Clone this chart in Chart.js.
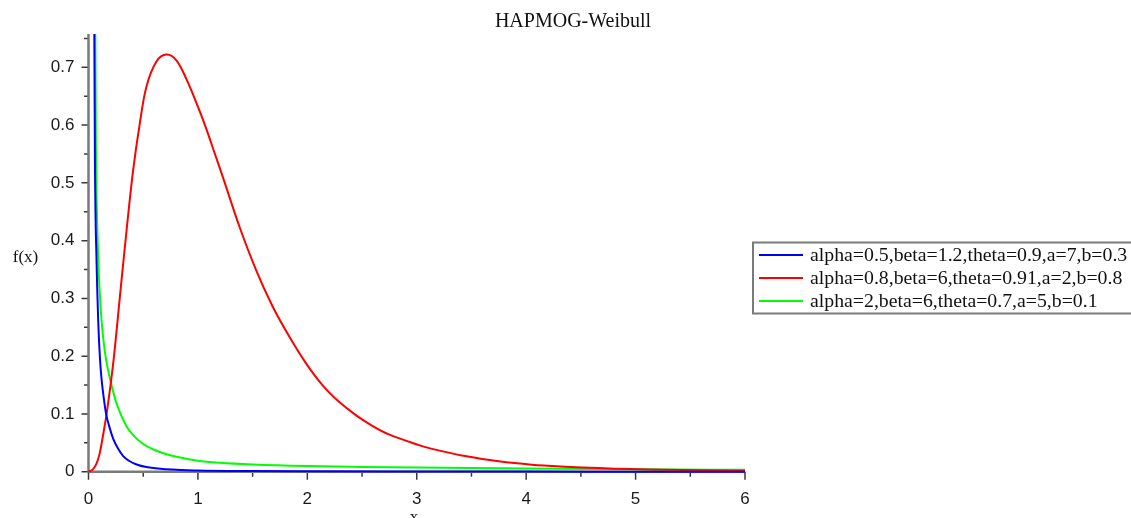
<!DOCTYPE html>
<html>
<head>
<meta charset="utf-8">
<script src="https://cdn.jsdelivr.net/npm/chart.js@4"></script>
<style>
html,body{margin:0;padding:0;background:#fff;}
#wrap{position:relative;width:1131px;height:518px;}
</style>
</head>
<body>
<div id="wrap"><canvas id="c"></canvas></div>
<script>
// ---- data ----
const titleText = 'HAPMOG-Weibull';
const yAxisTitle = 'f(x)';
const xAxisTitle = 'x';
const seriesLabels = [
  'alpha=0.5,beta=1.2,theta=0.9,a=7,b=0.3',
  'alpha=0.8,beta=6,theta=0.91,a=2,b=0.8',
  'alpha=2,beta=6,theta=0.7,a=5,b=0.1'
];
const xTicks = [0, 1, 2, 3, 4, 5, 6];
const xMinorTicks = [0.5, 1.5, 2.5, 3.5, 4.5, 5.5];
const yTicks = [0, 0.1, 0.2, 0.3, 0.4, 0.5, 0.6, 0.7];
const yTickLabels = ['0', '0.1', '0.2', '0.3', '0.4', '0.5', '0.6', '0.7'];
const yMinorTicks = [0.05, 0.15, 0.25, 0.35, 0.45, 0.55, 0.65, 0.75];

const blueX = [0.045, 0.053, 0.059, 0.074, 0.089, 0.105, 0.12, 0.14, 0.16, 0.19, 0.226, 0.27, 0.317, 0.37, 0.44, 0.53, 0.68, 0.85, 1.0, 1.5, 2.0, 3.0, 4.0, 5.0, 6.0];
const blueY = [1.2, 0.76, 0.534, 0.361, 0.26, 0.195, 0.159, 0.127, 0.101, 0.078, 0.057, 0.04, 0.027, 0.019, 0.0125, 0.008, 0.0045, 0.003, 0.002, 0.001, 0.0006, 0.0003, 0.0002, 0.0001, 0.0001];

const redX = [0, 0.04, 0.074, 0.1, 0.12, 0.166, 0.226, 0.287, 0.348, 0.408, 0.469, 0.53, 0.621, 0.712, 0.803, 0.894, 1.0, 1.076, 1.15, 1.228, 1.38, 1.532, 1.683, 1.835, 1.987, 2.138, 2.29, 2.443, 2.594, 2.746, 3.02, 3.14, 3.44, 3.75, 4.05, 4.355, 4.66, 4.96, 5.27, 5.6, 6.0];
const redY = [0, 0.004, 0.0145, 0.03, 0.049, 0.101, 0.188, 0.303, 0.418, 0.522, 0.603, 0.667, 0.71, 0.722, 0.712, 0.68, 0.632, 0.594, 0.553, 0.51, 0.424, 0.349, 0.286, 0.234, 0.188, 0.15, 0.121, 0.098, 0.0795, 0.0645, 0.046, 0.0395, 0.027, 0.018, 0.0122, 0.0087, 0.0062, 0.0045, 0.0033, 0.0023, 0.0015];

const greenX = [0.055, 0.062, 0.068, 0.077, 0.089, 0.1, 0.12, 0.14, 0.16, 0.18, 0.2, 0.25, 0.3, 0.35, 0.4, 0.5, 0.6, 0.7, 0.85, 1.0, 1.2, 1.5, 2.0, 2.5, 3.0, 4.0, 5.0, 6.0];
const greenY = [1.3, 0.76, 0.56, 0.45, 0.37, 0.32, 0.26, 0.222, 0.195, 0.175, 0.158, 0.122, 0.097, 0.078, 0.065, 0.048, 0.038, 0.031, 0.024, 0.019, 0.0155, 0.0125, 0.0097, 0.0082, 0.0071, 0.0054, 0.0041, 0.0032];

const seriesColors = ['#0000ff', '#ff0000', '#00ff00'];

function pts(xs, ys) { return xs.map((x, i) => ({x: x, y: ys[i]})); }

const decor = {
  id: 'decor',
  beforeDatasetsDraw(chart) {
    const ctx = chart.ctx, xs = chart.scales.x, ys = chart.scales.y;
    const ax = xs.getPixelForValue(0), ay = ys.getPixelForValue(0);
    const top = chart.chartArea.top, right = xs.getPixelForValue(6);
    ctx.save();
    ctx.strokeStyle = '#3a3a3a';
    ctx.lineWidth = 1.5;
    ctx.beginPath();
    yTicks.forEach(v => { const p = ys.getPixelForValue(v); ctx.moveTo(ax - 7, p); ctx.lineTo(ax, p); });
    yMinorTicks.forEach(v => { const p = ys.getPixelForValue(v); ctx.moveTo(ax - 4.5, p); ctx.lineTo(ax, p); });
    xTicks.forEach(v => { const p = xs.getPixelForValue(v); ctx.moveTo(p, ay); ctx.lineTo(p, ay + 8); });
    xMinorTicks.forEach(v => { const p = xs.getPixelForValue(v); ctx.moveTo(p, ay); ctx.lineTo(p, ay + 5); });
    ctx.stroke();
    ctx.strokeStyle = '#7a7a7a';
    ctx.lineWidth = 2.5;
    ctx.beginPath();
    ctx.moveTo(ax, top); ctx.lineTo(ax, ay);
    ctx.moveTo(ax, ay); ctx.lineTo(right, ay);
    ctx.stroke();
    ctx.restore();
  },
  afterDraw(chart) {
    const ctx = chart.ctx;
    ctx.save();
    ctx.fillStyle = '#111';
    ctx.textAlign = 'center';
    ctx.textBaseline = 'middle';
    ctx.font = '20px "Liberation Serif", serif';
    ctx.fillText(titleText, 573, 22);
    ctx.font = '17px "Liberation Serif", serif';
    ctx.fillText(yAxisTitle, 25.5, 258);
    ctx.textBaseline = 'alphabetic';
    ctx.fillText(xAxisTitle, 414, 522);
    // legend
    const lx = 753, ly = 242.5, lw = 400, lh = 71;
    ctx.strokeStyle = '#7a7a7a';
    ctx.lineWidth = 2;
    ctx.strokeRect(lx, ly, lw, lh);
    const rows = [255, 278, 301];
    ctx.font = '19.8px "Liberation Serif", serif';
    ctx.textAlign = 'left';
    ctx.textBaseline = 'middle';
    chart.data.datasets.forEach((ds, i) => {
      ctx.strokeStyle = ds.borderColor;
      ctx.lineWidth = 2;
      ctx.beginPath();
      ctx.moveTo(759, rows[i]); ctx.lineTo(803, rows[i]);
      ctx.stroke();
      ctx.fillStyle = '#111';
      ctx.fillText(ds.label, 810, rows[i] + 1);
    });
    ctx.restore();
  }
};

const clipBox = {left: 3, top: 0, right: 3, bottom: 3};
const tickFont = {family: '"Liberation Sans", Arial, sans-serif', size: 17};

new Chart(document.getElementById('c'), {
  type: 'scatter',
  data: {
    datasets: [
      {label: seriesLabels[0], data: pts(blueX, blueY), borderColor: seriesColors[0], cubicInterpolationMode: 'monotone'},
      {label: seriesLabels[1], data: pts(redX, redY), borderColor: seriesColors[1], tension: 0.35},
      {label: seriesLabels[2], data: pts(greenX, greenY), borderColor: seriesColors[2], cubicInterpolationMode: 'monotone'}
    ].map(d => Object.assign(d, {showLine: true, pointRadius: 0, borderWidth: 2, fill: false, clip: clipBox}))
  },
  options: {
    responsive: true,
    maintainAspectRatio: false,
    animation: false,
    events: [],
    layout: {padding: {left: 0, top: 34, right: 386, bottom: 0}},
    plugins: {legend: {display: false}, title: {display: false}, tooltip: {enabled: false}},
    scales: {
      x: {
        type: 'linear', min: 0, max: 6,
        afterBuildTicks: s => { s.ticks = xTicks.map(v => ({value: v})); },
        afterFit: s => { s.height = 46.3; },
        grid: {display: false, drawTicks: false, tickLength: 0},
        border: {display: false},
        ticks: {padding: 17, color: '#1a1a1a', font: tickFont, maxRotation: 0,
          callback: v => String(v)}
      },
      y: {
        type: 'linear', min: 0, max: 0.7577,
        afterBuildTicks: s => { s.ticks = yTicks.map(v => ({value: v})); },
        afterFit: s => { s.width = 88.5; },
        grid: {display: false, drawTicks: false, tickLength: 0},
        border: {display: false},
        ticks: {padding: 14, color: '#1a1a1a', font: tickFont,
          callback: (v, i) => yTickLabels[i]}
      }
    }
  },
  plugins: [decor]
});
</script>
</body>
</html>
